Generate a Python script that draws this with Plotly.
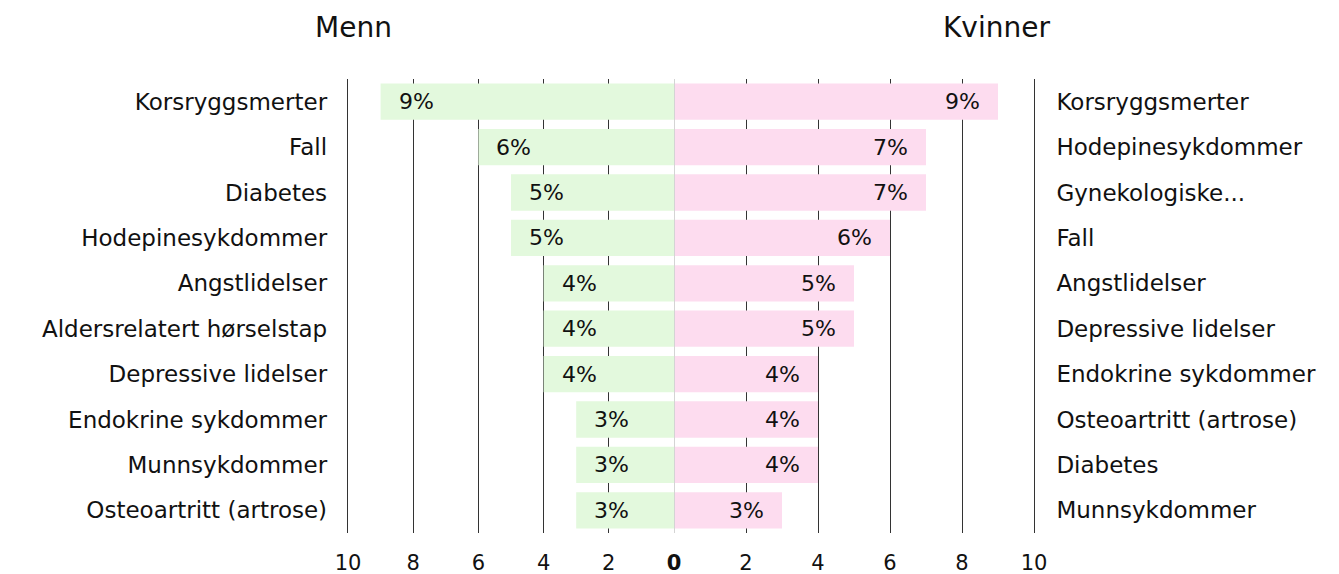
import plotly.graph_objects as go

# Menn (left panel)
men_labels = ["Korsryggsmerter", "Fall", "Diabetes", "Hodepinesykdommer", "Angstlidelser",
              "Aldersrelatert hørselstap", "Depressive lidelser", "Endokrine sykdommer",
              "Munnsykdommer", "Osteoartritt (artrose)"]
men_values = [9, 6, 5, 5, 4, 4, 4, 3, 3, 3]

# Kvinner (right panel)
women_labels = ["Korsryggsmerter", "Hodepinesykdommer", "Gynekologiske...", "Fall", "Angstlidelser",
                "Depressive lidelser", "Endokrine sykdommer", "Osteoartritt (artrose)",
                "Diabetes", "Munnsykdommer"]
women_values = [9, 7, 7, 6, 5, 5, 4, 4, 4, 3]

ticks = [0, 2, 4, 6, 8, 10]

FONT = "DejaVu Sans"
W, H = 1339, 574
# page body has an 8px margin, so figure coords = screen coords - 8
left_dom = [335.1 / W, 666 / W]
right_dom = [666 / W, 1031.4 / W]

fig = go.Figure()
fig.add_trace(go.Bar(x=men_values, y=men_labels, orientation="h", width=0.8,
                     marker=dict(color="#e3f9dd", line=dict(width=0)),
                     xaxis="x", yaxis="y", hoverinfo="x+y"))
fig.add_trace(go.Bar(x=women_values, y=women_labels, orientation="h", width=0.8,
                     marker=dict(color="#fddcef", line=dict(width=0)),
                     xaxis="x2", yaxis="y2", hoverinfo="x+y"))

# value labels near the outer end of each bar
ann = []
for lab, v in zip(men_labels, men_values):
    ann.append(dict(x=v, y=lab, xref="x", yref="y", text=f"{v}%", showarrow=False,
                    xanchor="left", xshift=16, font=dict(size=22, color="#111")))
for lab, v in zip(women_labels, women_values):
    ann.append(dict(x=v, y=lab, xref="x2", yref="y2", text=f"{v}%", showarrow=False,
                    xanchor="right", xshift=-16, font=dict(size=22, color="#111")))

ann.append(dict(x=345 / W, y=1, xref="paper", yref="paper", yshift=52, text="Menn",
                showarrow=False, xanchor="center", yanchor="middle",
                font=dict(size=28, color="#111")))
ann.append(dict(x=988 / W, y=1, xref="paper", yref="paper", yshift=52, text="Kvinner",
                showarrow=False, xanchor="center", yanchor="middle",
                font=dict(size=28, color="#111")))

fig.update_layout(
    width=W, height=H,
    margin=dict(l=0, r=0, t=71, b=49),
    paper_bgcolor="white", plot_bgcolor="white",
    showlegend=False,
    font=dict(family=FONT, size=21, color="#111"),
    xaxis=dict(domain=left_dom, range=[10.15, 0], tickvals=ticks[1:],
               showgrid=True, gridcolor="#333", gridwidth=1, zeroline=False,
               showline=False, ticks="", ticklabelstandoff=15, automargin=False,
               tickfont=dict(size=21), fixedrange=True),
    xaxis2=dict(domain=right_dom, range=[0, 10.15], tickvals=ticks,
                ticktext=["<b>0</b>"] + [str(t) for t in ticks[1:]],
                showgrid=True, gridcolor="#333", gridwidth=1, zeroline=False,
                showline=False, ticks="", ticklabelstandoff=15, automargin=False,
                tickfont=dict(size=21), fixedrange=True),
    yaxis=dict(anchor="x", categoryorder="array", categoryarray=men_labels,
               autorange="reversed", showgrid=False, ticks="", automargin=False,
               ticklabelstandoff=15, tickfont=dict(size=23)),
    yaxis2=dict(anchor="x2", side="right", categoryorder="array",
                categoryarray=women_labels, autorange="reversed", showgrid=False,
                ticks="", ticklabelstandoff=16, automargin=False, tickfont=dict(size=23)),
    annotations=ann,
    shapes=[dict(type="line", xref="x2", yref="y2 domain", x0=0, x1=0, y0=0, y1=1,
                 line=dict(color="#d4d4d4", width=2), layer="above")],
)

fig.write_html("out.html")
